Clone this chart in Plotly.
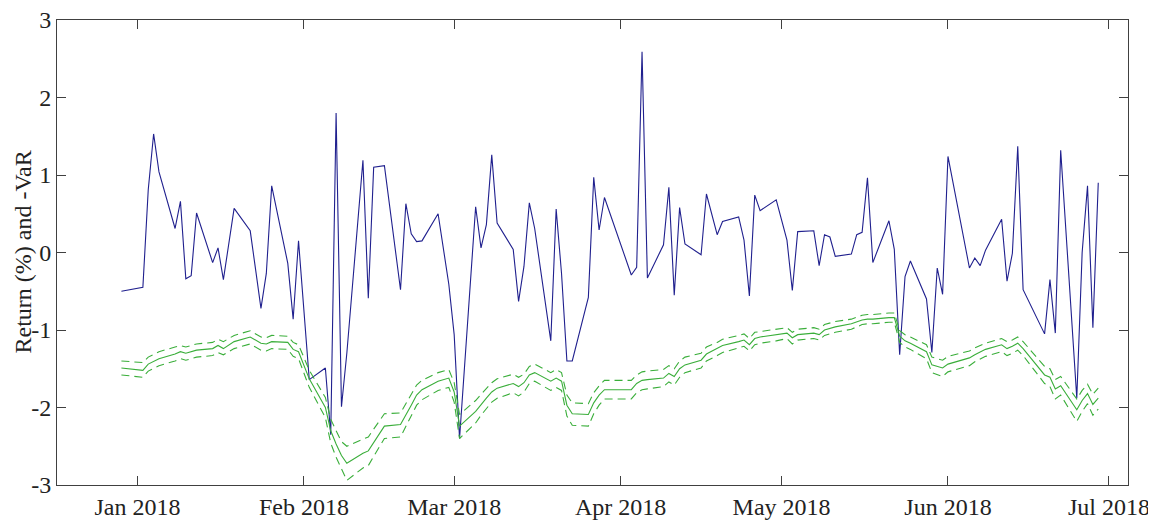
import plotly.graph_objects as go

dates = [
    "2017-12-29", "2018-01-02", "2018-01-03", "2018-01-04", "2018-01-05",
    "2018-01-08", "2018-01-09", "2018-01-10", "2018-01-11", "2018-01-12",
    "2018-01-15", "2018-01-16", "2018-01-17", "2018-01-19", "2018-01-22",
    "2018-01-24", "2018-01-25", "2018-01-26", "2018-01-29", "2018-01-30",
    "2018-01-31", "2018-02-02", "2018-02-05", "2018-02-06", "2018-02-07",
    "2018-02-08", "2018-02-09", "2018-02-12", "2018-02-13", "2018-02-14",
    "2018-02-16", "2018-02-19", "2018-02-20", "2018-02-21", "2018-02-22",
    "2018-02-23", "2018-02-26", "2018-02-28", "2018-03-01", "2018-03-02",
    "2018-03-05", "2018-03-06", "2018-03-07", "2018-03-08", "2018-03-09",
    "2018-03-12", "2018-03-13", "2018-03-14", "2018-03-15", "2018-03-16",
    "2018-03-19", "2018-03-20", "2018-03-21", "2018-03-22", "2018-03-23",
    "2018-03-26", "2018-03-27", "2018-03-28", "2018-03-29", "2018-04-03",
    "2018-04-04", "2018-04-05", "2018-04-06", "2018-04-09", "2018-04-10",
    "2018-04-11", "2018-04-12", "2018-04-13", "2018-04-16", "2018-04-17",
    "2018-04-19", "2018-04-20", "2018-04-23", "2018-04-24", "2018-04-25",
    "2018-04-26", "2018-04-27", "2018-04-30", "2018-05-02", "2018-05-03",
    "2018-05-04", "2018-05-07", "2018-05-08", "2018-05-09", "2018-05-10",
    "2018-05-11", "2018-05-14", "2018-05-15", "2018-05-16", "2018-05-17",
    "2018-05-18", "2018-05-21", "2018-05-22", "2018-05-23", "2018-05-24",
    "2018-05-25", "2018-05-28", "2018-05-29", "2018-05-30", "2018-05-31",
    "2018-06-01", "2018-06-05", "2018-06-06", "2018-06-07", "2018-06-08",
    "2018-06-11", "2018-06-12", "2018-06-13", "2018-06-14", "2018-06-15",
    "2018-06-19", "2018-06-20", "2018-06-21", "2018-06-22", "2018-06-25",
    "2018-06-26", "2018-06-27", "2018-06-28", "2018-06-29",
]

returns = [
    -0.50, -0.45, 0.81, 1.53, 1.04,
    0.31, 0.66, -0.34, -0.30, 0.51,
    -0.13, 0.06, -0.35, 0.57, 0.28,
    -0.72, -0.27, 0.86, -0.14, -0.86,
    0.15, -1.64, -1.49, -2.35, 1.80,
    -1.99, -1.30, 1.19, -0.59, 1.10,
    1.12, -0.48, 0.63, 0.24, 0.14,
    0.15, 0.50, -0.41, -1.06, -2.40,
    0.59, 0.06, 0.36, 1.26, 0.38,
    0.04, -0.63, -0.18, 0.64, 0.31,
    -1.14, 0.56, -0.27, -1.40, -1.40,
    -0.58, 0.97, 0.29, 0.71, -0.29,
    -0.19, 2.59, -0.33, 0.10, 0.84,
    -0.55, 0.58, 0.11, -0.03, 0.755,
    0.23, 0.40, 0.46, 0.16, -0.56,
    0.74, 0.54, 0.68, 0.16, -0.49,
    0.27, 0.28, -0.17, 0.23, 0.20,
    -0.05, -0.02, 0.23, 0.26, 0.965,
    -0.13, 0.41, 0.04, -1.32, -0.31,
    -0.11, -0.60, -1.29, -0.20, -0.54,
    1.24, -0.20, -0.07, -0.17, 0.03,
    0.43, -0.37, -0.01, 1.37, -0.48,
    -1.05, -0.35, -1.04, 1.32, -1.88,
    0.00, 0.86, -0.97, 0.90,
]

neg_var = [
    -1.49, -1.52, -1.44, -1.40, -1.37,
    -1.31, -1.28, -1.30, -1.28, -1.26,
    -1.24, -1.20, -1.24, -1.15, -1.09,
    -1.17, -1.18, -1.15, -1.16, -1.25,
    -1.28, -1.63, -2.00, -2.30, -2.47,
    -2.62, -2.72, -2.59, -2.56, -2.45,
    -2.24, -2.22, -2.10, -1.97, -1.84,
    -1.77, -1.66, -1.62, -1.80, -2.24,
    -2.05, -1.96, -1.88, -1.80, -1.75,
    -1.69, -1.73, -1.68, -1.58, -1.55,
    -1.66, -1.62, -1.66, -1.97, -2.08,
    -2.09, -1.94, -1.84, -1.77, -1.77,
    -1.69, -1.65, -1.64, -1.62, -1.56,
    -1.60, -1.50, -1.45, -1.39, -1.31,
    -1.24, -1.20, -1.15, -1.13, -1.19,
    -1.11, -1.09, -1.06, -1.04, -1.10,
    -1.06, -1.04, -1.06, -1.00, -0.98,
    -0.96, -0.92, -0.89, -0.87, -0.86,
    -0.86, -0.84, -0.84, -1.08, -1.14,
    -1.17, -1.28, -1.45, -1.47, -1.49,
    -1.44, -1.36, -1.32, -1.29, -1.25,
    -1.19, -1.24, -1.21, -1.17, -1.24,
    -1.58, -1.61, -1.76, -1.72, -2.03,
    -1.91, -1.82, -1.96, -1.88,
]

var_upper = [
    -1.40, -1.42, -1.35, -1.31, -1.28,
    -1.22, -1.20, -1.22, -1.20, -1.18,
    -1.16, -1.12, -1.15, -1.07, -1.01,
    -1.09, -1.10, -1.07, -1.08, -1.16,
    -1.19, -1.52, -1.87, -2.15, -2.30,
    -2.44, -2.50, -2.41, -2.38, -2.28,
    -2.08, -2.07, -1.95, -1.83, -1.71,
    -1.65, -1.55, -1.51, -1.68, -2.09,
    -1.91, -1.83, -1.75, -1.68, -1.63,
    -1.57, -1.61, -1.57, -1.47, -1.44,
    -1.55, -1.51, -1.55, -1.84, -1.94,
    -1.95, -1.81, -1.72, -1.65, -1.65,
    -1.58, -1.54, -1.53, -1.51, -1.46,
    -1.50, -1.40, -1.35, -1.30, -1.22,
    -1.16, -1.12, -1.07, -1.05, -1.11,
    -1.03, -1.02, -0.99, -0.97, -1.03,
    -0.99, -0.97, -0.99, -0.93, -0.91,
    -0.89, -0.86, -0.83, -0.81, -0.80,
    -0.80, -0.78, -0.78, -1.01, -1.06,
    -1.09, -1.19, -1.35, -1.37, -1.39,
    -1.34, -1.27, -1.23, -1.20, -1.17,
    -1.11, -1.15, -1.13, -1.09, -1.15,
    -1.47, -1.50, -1.64, -1.60, -1.89,
    -1.78, -1.70, -1.83, -1.75,
]

var_lower = [
    -1.58, -1.61, -1.53, -1.49, -1.46,
    -1.40, -1.37, -1.39, -1.37, -1.35,
    -1.33, -1.29, -1.32, -1.24, -1.18,
    -1.26, -1.27, -1.24, -1.25, -1.34,
    -1.37, -1.74, -2.13, -2.46, -2.64,
    -2.80, -2.94, -2.78, -2.75, -2.63,
    -2.40, -2.38, -2.25, -2.11, -1.97,
    -1.90, -1.78, -1.74, -1.93, -2.40,
    -2.20, -2.10, -2.02, -1.93, -1.88,
    -1.81, -1.85, -1.80, -1.69, -1.66,
    -1.78, -1.74, -1.78, -2.11, -2.23,
    -2.24, -2.08, -1.97, -1.89, -1.89,
    -1.81, -1.77, -1.76, -1.73, -1.67,
    -1.71, -1.61, -1.55, -1.49, -1.40,
    -1.33, -1.29, -1.23, -1.21, -1.27,
    -1.19, -1.17, -1.14, -1.11, -1.18,
    -1.13, -1.11, -1.13, -1.07, -1.05,
    -1.03, -0.99, -0.96, -0.93, -0.92,
    -0.92, -0.90, -0.90, -1.16, -1.22,
    -1.25, -1.37, -1.55, -1.57, -1.60,
    -1.54, -1.46, -1.41, -1.38, -1.34,
    -1.28, -1.33, -1.30, -1.26, -1.33,
    -1.69, -1.73, -1.89, -1.84, -2.18,
    -2.05, -1.95, -2.10, -2.02,
]

x_tick_vals = ["2018-01-01", "2018-02-01", "2018-03-01", "2018-04-01",
               "2018-05-01", "2018-06-01", "2018-07-01"]
x_tick_text = ["Jan 2018", "Feb 2018", "Mar 2018", "Apr 2018",
               "May 2018", "Jun 2018", "Jul 2018"]
y_tick_vals = [-3, -2, -1, 0, 1, 2, 3]
y_tick_text = ["-3", "-2", "-1", "0", "1", "2", "3"]
y_title = "Return (%) and -VaR"

BLUE = "#20208e"
GREEN = "#3aae3a"
FONT = "Liberation Serif"
TXT = "#222222"

fig = go.Figure()
fig.add_trace(go.Scatter(x=dates, y=returns, mode="lines",
                         line=dict(color=BLUE, width=1.1), name="Return"))
fig.add_trace(go.Scatter(x=dates, y=neg_var, mode="lines",
                         line=dict(color=GREEN, width=1.1), name="-VaR"))
fig.add_trace(go.Scatter(x=dates, y=var_upper, mode="lines",
                         line=dict(color=GREEN, width=1.1, dash="8px,5px"),
                         name="upper"))
fig.add_trace(go.Scatter(x=dates, y=var_lower, mode="lines",
                         line=dict(color=GREEN, width=1.1, dash="8px,5px"),
                         name="lower"))

axis_common = dict(showline=True, linecolor="#404040", linewidth=1,
                   mirror="allticks", ticks="inside", ticklen=9,
                   tickcolor="#404040", showgrid=False, zeroline=False,
                   automargin=False, ticklabeloverflow="allow",
                   tickfont=dict(family=FONT, size=24, color=TXT))

# The page body adds an 8px offset, so the figure is 8px smaller per side.
fig.update_layout(
    width=1148, height=513,
    margin=dict(l=49, r=28, t=12, b=36),
    paper_bgcolor="white", plot_bgcolor="white",
    showlegend=False,
    font=dict(family=FONT, color=TXT),
    xaxis=dict(range=["2017-12-17", "2018-07-04 13:00"],
               tickvals=x_tick_vals, ticktext=x_tick_text, **axis_common),
    yaxis=dict(range=[-3, 3], tickvals=y_tick_vals, ticktext=y_tick_text,
               **axis_common),
    annotations=[dict(text=y_title, textangle=-90, xref="paper", yref="paper",
                      x=0, y=0.5, xanchor="center", yanchor="middle",
                      xshift=-35, showarrow=False,
                      font=dict(family=FONT, size=24, color=TXT))],
)

fig.write_html("out.html")
